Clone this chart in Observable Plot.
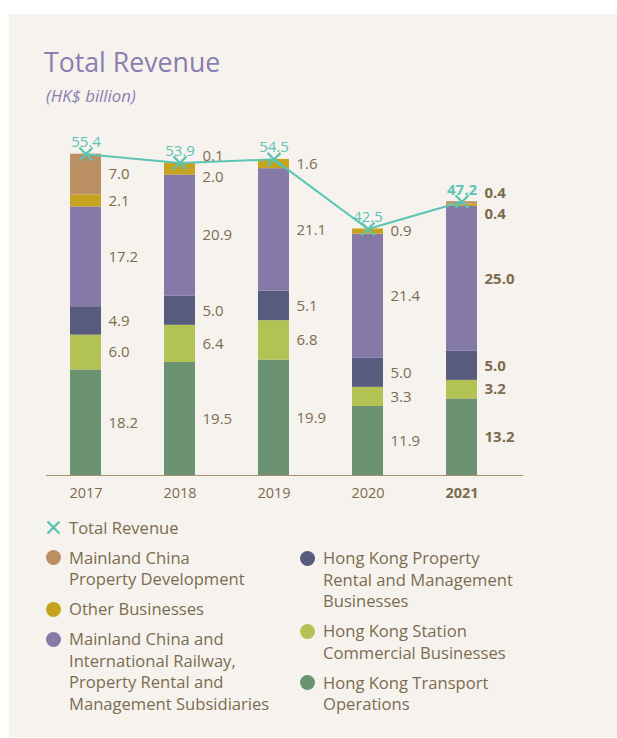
<!DOCTYPE html>
<html>
<head>
<meta charset="utf-8">
<script src="https://cdn.jsdelivr.net/npm/d3@7"></script>
<script src="https://cdn.jsdelivr.net/npm/@observablehq/plot@0.6"></script>
<style>
  html, body { margin: 0; padding: 0; background: #ffffff; }
  body { font-family: "Open Sans", sans-serif; width: 617px; height: 738px; position: relative; overflow: hidden; }
  #panel { position: absolute; left: 9px; top: 14px; width: 608px; height: 723px; background: #f6f3ee; }
  #title { position: absolute; left: 44px; top: 49px; font-size: 26.7px; line-height: 26px; color: #8a7eb0; white-space: nowrap; }
  #subtitle { position: absolute; left: 46px; top: 88px; font-size: 16.8px; line-height: 16px; font-style: italic; color: #8a7eb0; white-space: nowrap; }
  #chart { position: absolute; left: 0; top: 120px; }
  .col { position: absolute; }
  .item { display: flex; align-items: flex-start; margin-bottom: 8.5px; font-size: 16.6px; line-height: 21.5px; color: #7d6b4f; white-space: pre-line; }
  .mk { width: 15px; height: 15px; margin-top: 3.25px; margin-right: 8.5px; flex: none; border-radius: 50%; }
  .mkx { width: 15px; height: 15px; margin-top: 3.25px; margin-right: 8.5px; flex: none; }
</style>
</head>
<body>
<div id="panel"></div>
<div id="title">Total Revenue</div>
<div id="subtitle">(HK$ billion)</div>
<div id="chart"></div>
<div class="col" id="legLeft" style="left:45.5px; top:516.75px;"></div>
<div class="col" id="legRight" style="left:299.5px; top:547.25px;"></div>
<script>
// ---- data ----
const years = ["2017", "2018", "2019", "2020", "2021"];
const seriesNames = [
  "Hong Kong Transport Operations",
  "Hong Kong Station Commercial Businesses",
  "Hong Kong Property Rental and Management Businesses",
  "Mainland China and International Railway, Property Rental and Management Subsidiaries",
  "Other Businesses",
  "Mainland China Property Development"
];
const seriesColors = ["#6b9371", "#b3c353", "#575b7d", "#857aa7", "#c5a31f", "#ba9062"];
const hkTransport   = [18.2, 19.5, 19.9, 11.9, 13.2];
const hkStation     = [6.0, 6.4, 6.8, 3.3, 3.2];
const hkProperty    = [4.9, 5.0, 5.1, 5.0, 5.0];
const mainlandRail  = [17.2, 20.9, 21.1, 21.4, 25.0];
const otherBiz      = [2.1, 2.0, 1.6, 0.9, 0.4];
const mainlandProp  = [7.0, 0.1, 0.0, 0.0, 0.4];
const totalRevenue  = [55.4, 53.9, 54.5, 42.5, 47.2];
const highlightYear = "2021";
const totalLabel = "Total Revenue";
const legendLeft = [
  {name: "Mainland China Property Development", text: "Mainland China\nProperty Development"},
  {name: "Other Businesses", text: "Other Businesses"},
  {name: "Mainland China and International Railway, Property Rental and Management Subsidiaries", text: "Mainland China and\nInternational Railway,\nProperty Rental and\nManagement Subsidiaries"}
];
const legendRight = [
  {name: "Hong Kong Property Rental and Management Businesses", text: "Hong Kong Property\nRental and Management\nBusinesses"},
  {name: "Hong Kong Station Commercial Businesses", text: "Hong Kong Station\nCommercial Businesses"},
  {name: "Hong Kong Transport Operations", text: "Hong Kong Transport\nOperations"}
];

// ---- build tables ----
const seriesValues = [hkTransport, hkStation, hkProperty, mainlandRail, otherBiz, mainlandProp];
const rows = [];
years.forEach((yr, i) => {
  seriesNames.forEach((s, j) => rows.push({year: yr, series: s, value: seriesValues[j][i]}));
});
const totals = years.map((yr, i) => ({year: yr, total: totalRevenue[i]}));

const textColor = "#7d6b4f";
const teal = "#5cc4b5";
const W = 617, H = 390, MT = 7, MB = 35, YMAX = 60;
const pxPerUnit = (H - MT - MB) / YMAX;
const gap = 21 / pxPerUnit;

// label positions: segment midpoints, nudged apart when they collide
const labels = [];
years.forEach((yr, i) => {
  let cum = 0;
  const list = [];
  seriesNames.forEach((s, j) => {
    const v = seriesValues[j][i];
    if (v > 0) list.push({year: yr, value: v, y: cum + v / 2});
    cum += v;
  });
  for (let k = 1; k < list.length; k++) {
    if (list[k].y - list[k - 1].y < gap) {
      const c = (list[k].y + list[k - 1].y) / 2;
      list[k - 1].y = c - gap / 2;
      list[k].y = c + gap / 2;
    }
  }
  labels.push(...list);
});

const fmt = d3.format(".1f");
const isHi = d => d.year === highlightYear;

const chart = Plot.plot({
  width: W,
  height: H,
  marginTop: MT,
  marginBottom: MB,
  marginLeft: 46,
  marginRight: 94,
  style: {background: "transparent", fontFamily: "'Open Sans', sans-serif", fontSize: "15px"},
  x: {type: "band", domain: years, range: [50.1, 496.9], paddingInner: 0.672, paddingOuter: 0.2, axis: null},
  y: {domain: [0, YMAX], axis: null},
  color: {domain: seriesNames, range: seriesColors},
  marks: [
    Plot.barY(rows, Plot.stackY({x: "year", y: "value", fill: "series", order: seriesNames})),
    Plot.ruleY([0], {stroke: "#a3916f", strokeWidth: 1.2}),
    Plot.text(labels.filter(d => !isHi(d)), {x: "year", y: "y", text: d => fmt(d.value), dx: 22.5, textAnchor: "start", fill: textColor, fontSize: 15}),
    Plot.text(labels.filter(isHi), {x: "year", y: "y", text: d => fmt(d.value), dx: 22.5, textAnchor: "start", fill: textColor, fontSize: 15, fontWeight: "bold"}),
    Plot.line(totals, {x: "year", y: "total", stroke: teal, strokeWidth: 2}),
    Plot.dot(totals, {x: "year", y: "total", symbol: "times", r: 6, stroke: teal, strokeWidth: 2.2}),
    Plot.text(totals.filter(d => !isHi(d)), {x: "year", y: "total", text: d => fmt(d.total), dy: -12, fill: teal, fontSize: 15}),
    Plot.text(totals.filter(isHi), {x: "year", y: "total", text: d => fmt(d.total), dy: -12, fill: teal, fontSize: 15, fontWeight: "bold"}),
    Plot.text(years.filter(y => y !== highlightYear), {x: d => d, y: () => 0, dy: 18, fill: textColor, fontSize: 14.5}),
    Plot.text(years.filter(y => y === highlightYear), {x: d => d, y: () => 0, dy: 18, fill: textColor, fontSize: 14.5, fontWeight: "bold"})
  ]
});
document.getElementById("chart").appendChild(chart);

// ---- legend ----
const colorOf = name => seriesColors[seriesNames.indexOf(name)];
function addItem(container, marker, text) {
  const it = document.createElement("div");
  it.className = "item";
  it.appendChild(marker);
  const t = document.createElement("div");
  t.textContent = text;
  it.appendChild(t);
  container.appendChild(it);
}
const left = document.getElementById("legLeft");
const right = document.getElementById("legRight");
const xm = document.createElementNS("http://www.w3.org/2000/svg", "svg");
xm.setAttribute("class", "mkx");
xm.setAttribute("viewBox", "0 0 15 15");
xm.innerHTML = `<path d="M1.5 1.5L13.5 13.5M13.5 1.5L1.5 13.5" stroke="${teal}" stroke-width="2.4" fill="none"/>`;
addItem(left, xm, totalLabel);
legendLeft.forEach(d => {
  const m = document.createElement("div");
  m.className = "mk"; m.style.background = colorOf(d.name);
  addItem(left, m, d.text);
});
legendRight.forEach(d => {
  const m = document.createElement("div");
  m.className = "mk"; m.style.background = colorOf(d.name);
  addItem(right, m, d.text);
});
</script>
</body>
</html>
